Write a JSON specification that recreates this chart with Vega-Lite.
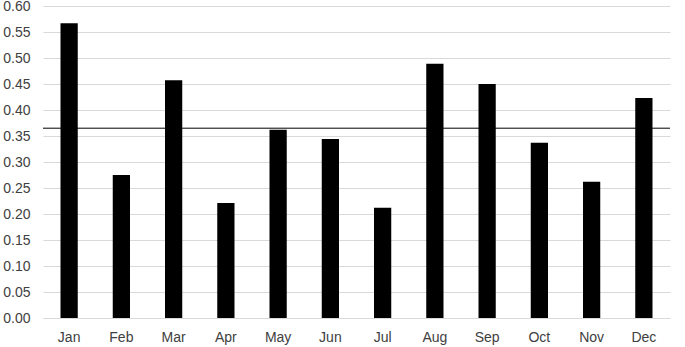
{
  "$schema": "https://vega.github.io/schema/vega-lite/v6.json",
  "width": 627,
  "height": 312,
  "autosize": {"type": "none"},
  "padding": {"left": 43, "top": 6, "right": 15, "bottom": 29},
  "background": "white",
  "data": {"values": [
    {"month": "Jan", "value": 0.567},
    {"month": "Feb", "value": 0.275},
    {"month": "Mar", "value": 0.457},
    {"month": "Apr", "value": 0.221},
    {"month": "May", "value": 0.362},
    {"month": "Jun", "value": 0.344},
    {"month": "Jul", "value": 0.212},
    {"month": "Aug", "value": 0.489},
    {"month": "Sep", "value": 0.45},
    {"month": "Oct", "value": 0.337},
    {"month": "Nov", "value": 0.262},
    {"month": "Dec", "value": 0.423}
  ]},
  "config": {
    "view": {"stroke": null},
    "axis": {"labelFont": "Liberation Sans", "labelFontSize": 14, "labelColor": "#404040", "labelOverlap": false}
  },
  "layer": [
    {
      "mark": {"type": "bar", "color": "black"},
      "encoding": {
        "x": {"field": "month", "type": "nominal", "sort": null,
              "scale": {"paddingInner": 0.67, "paddingOuter": 0.335},
              "axis": {"title": null, "labelAngle": 0, "ticks": false, "domainColor": "#d9d9d9", "labelPadding": 12}},
        "y": {"field": "value", "type": "quantitative",
              "scale": {"domain": [0, 0.6], "nice": false},
              "axis": {"title": null, "values": [0,0.05,0.1,0.15,0.2,0.25,0.3,0.35,0.4,0.45,0.5,0.55,0.6],
                       "format": ".2f", "domain": false, "ticks": false, "gridColor": "#d9d9d9", "labelPadding": 13, "labelOverlap": false}}
      }
    },
    {
      "data": {"values": [{"avg": 0.365}]},
      "mark": {"type": "rule", "color": "black", "strokeWidth": 1},
      "encoding": {"y": {"field": "avg", "type": "quantitative",
              "axis": {"title": null, "values": [0,0.05,0.1,0.15,0.2,0.25,0.3,0.35,0.4,0.45,0.5,0.55,0.6],
                       "format": ".2f", "domain": false, "ticks": false, "gridColor": "#d9d9d9", "labelPadding": 13, "labelOverlap": false}}}
    }
  ]
}
